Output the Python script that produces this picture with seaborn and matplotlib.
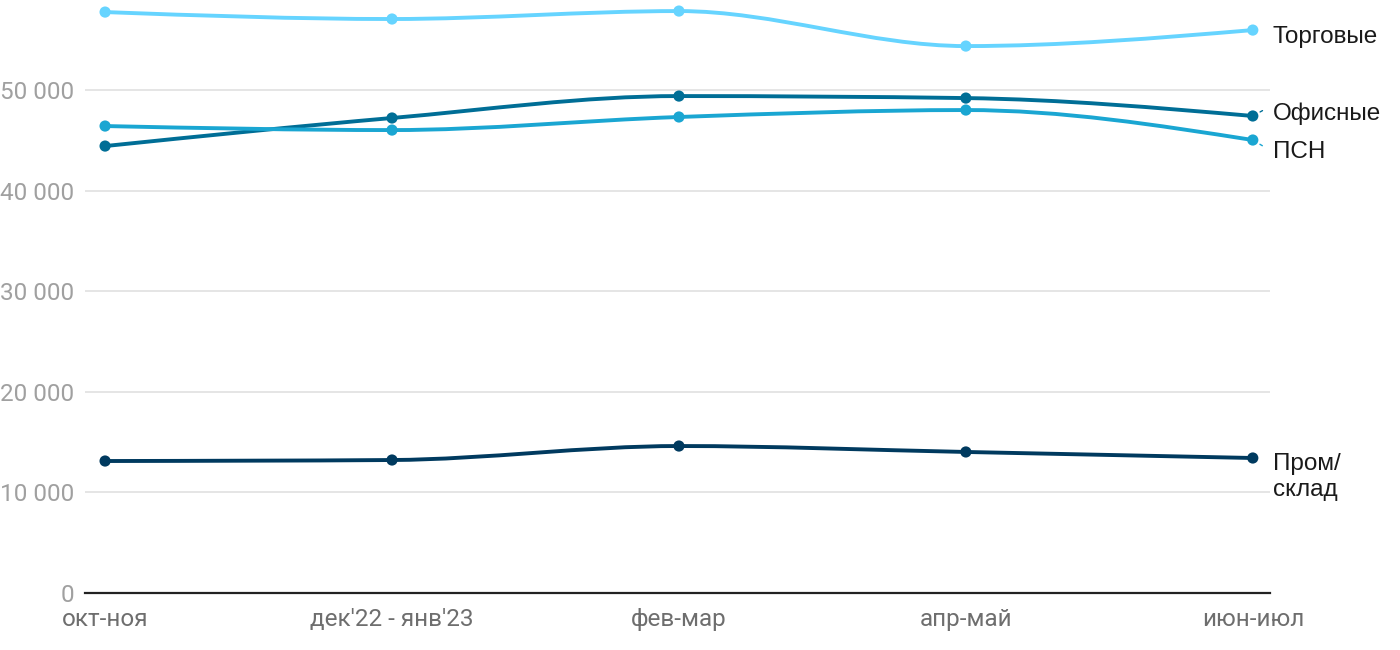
import numpy as np
import pandas as pd
import seaborn as sns
import matplotlib.pyplot as plt
from matplotlib.path import Path
from matplotlib.patches import PathPatch

# data
periods = ["окт-ноя", "дек'22 - янв'23", "фев-мар", "апр-май", "июн-июл"]
torgovye = [57750, 57060, 57850, 54370, 55960]
ofisnye = [44430, 47220, 49400, 49200, 47420]
psn = [46420, 46020, 47320, 48010, 45030]
prom = [13120, 13220, 14610, 14020, 13420]

series_names = ["Торговые", "Офисные", "ПСН", "Пром/\nсклад"]
series_values = [torgovye, ofisnye, psn, prom]
colors = ["#66d4ff", "#006e96", "#1aa6d2", "#003a5f"]

rows = []
for name, vals in zip(series_names, series_values):
    for i, v in enumerate(vals):
        rows.append({"period": i, "value": v, "series": name})
df = pd.DataFrame(rows)

sns.set_theme(style="white")
plt.rcParams["font.family"] = ["Roboto", "DejaVu Sans"]

fig = plt.figure(figsize=(14, 6.5), dpi=100)
ax = fig.add_axes([85 / 1400, 57 / 650, 1185 / 1400, 593 / 650])


def monotone_path(xs, ys):
    # monotone cubic (like d3 curveMonotoneX) as bezier path in data coords
    xs = np.asarray(xs, float)
    ys = np.asarray(ys, float)
    n = len(xs)
    h = np.diff(xs)
    s = np.diff(ys) / h
    t = np.zeros(n)
    for i in range(1, n - 1):
        p = (s[i - 1] * h[i] + s[i] * h[i - 1]) / (h[i - 1] + h[i])
        t[i] = (np.sign(s[i - 1]) + np.sign(s[i])) * min(abs(s[i - 1]), abs(s[i]), 0.5 * abs(p))
    t[0] = (3 * s[0] - t[1]) / 2
    t[-1] = (3 * s[-1] - t[-2]) / 2
    verts = [(xs[0], ys[0])]
    codes = [Path.MOVETO]
    for i in range(n - 1):
        d = h[i] / 3
        verts += [(xs[i] + d, ys[i] + d * t[i]),
                  (xs[i + 1] - d, ys[i + 1] - d * t[i + 1]),
                  (xs[i + 1], ys[i + 1])]
        codes += [Path.CURVE4] * 3
    return Path(verts, codes)


for name, col in zip(series_names, colors):
    sub = df[df["series"] == name]
    ax.add_patch(PathPatch(monotone_path(sub["period"], sub["value"]),
                           facecolor="none", edgecolor=col, lw=2.8, zorder=3,
                           capstyle="round"))

sns.scatterplot(data=df, x="period", y="value", hue="series",
                palette=dict(zip(series_names, colors)), s=65,
                edgecolor="none", legend=False, ax=ax, zorder=4)

ax.set_xlim(-0.07, 4.06)
ax.set_ylim(0, 58950)
ax.set_yticks([0, 10000, 20000, 30000, 40000, 50000])
ax.set_yticklabels(["0", "10 000", "20 000", "30 000", "40 000", "50 000"])
ax.set_xticks(range(len(periods)))
ax.set_xticklabels(periods)
ax.tick_params(axis="y", labelsize=17.5, labelcolor="#a0a0a0", length=0, pad=8)
ax.tick_params(axis="x", labelsize=17.5, labelcolor="#6e6e6e", length=0, pad=11)
ax.grid(axis="y", color="#e3e3e3", lw=1.3)
ax.set_axisbelow(True)
for sp in ["top", "right", "left"]:
    ax.spines[sp].set_visible(False)
ax.spines["bottom"].set_color("#222222")
ax.spines["bottom"].set_linewidth(1.6)
ax.set_xlabel("")
ax.set_ylabel("")

# right-side labels
label_y = {"Торговые": 55270, "Офисные": 47610, "ПСН": 43840, "Пром/\nсклад": 11530}
for name in series_names:
    ax.text(4.07, label_y[name], name, fontsize=17.5, color="#1a1a1a",
            family=["Liberation Sans", "DejaVu Sans"],
            va="center", ha="left", clip_on=False, linespacing=1.25)

ax.annotate("", xy=(4.04, 48050), xytext=(4, ofisnye[-1]),
            arrowprops=dict(arrowstyle="-", color=colors[1], lw=1,
                            linestyle=(0, (2, 2)), shrinkA=6, shrinkB=0))
ax.annotate("", xy=(4.04, 44350), xytext=(4, psn[-1]),
            arrowprops=dict(arrowstyle="-", color=colors[2], lw=1,
                            linestyle=(0, (2, 2)), shrinkA=6, shrinkB=0))

fig.savefig("out.png", dpi=100)
